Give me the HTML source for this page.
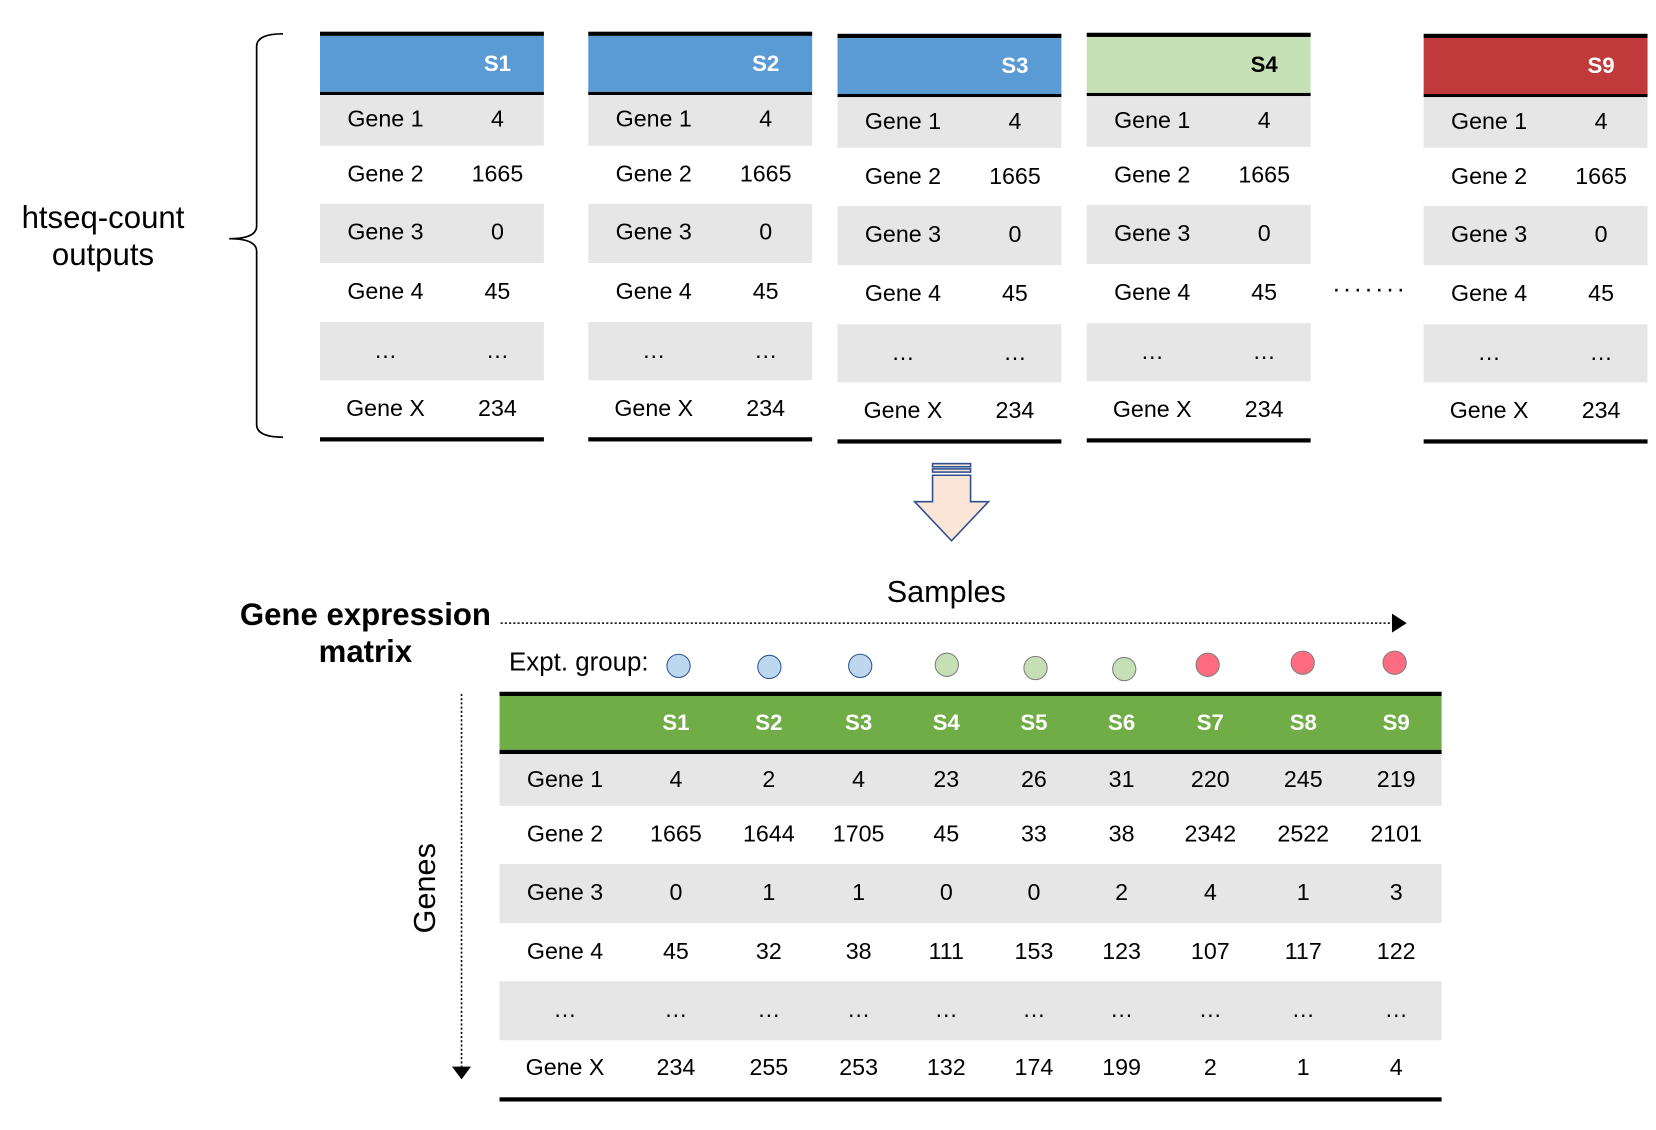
<!DOCTYPE html>
<html><head><meta charset="utf-8">
<style>
html,body{margin:0;padding:0;background:#fff;width:1656px;height:1130px;overflow:hidden}
#w{position:absolute;left:0;top:0;width:1568px;height:1070px;transform:scale(1.05612);transform-origin:0 0;font-family:"Liberation Sans",Arial,sans-serif;color:#000}
.a{position:absolute}
.t{position:absolute;width:212px}
.t .ln{position:absolute;left:0;width:212px;background:#000}
.t .hd{position:absolute;left:0;width:212px;top:4px;height:53px}
.t .hd span{position:absolute;left:138px;width:60px;text-align:center;font-weight:bold;font-size:21px;line-height:53px;color:#fff}
.r{position:absolute;left:0;width:100%}
.g{background:#e6e6e6}
.r span{position:absolute;top:-1px;text-align:center;font-size:22px}
.t .r span.l{left:12px;width:100px}
.t .r span.v{left:128px;width:80px}
.bt{position:absolute;left:473px;top:655px;width:892px}
.bt .ln{position:absolute;left:0;width:892px;background:#000}
.bt .hd{position:absolute;left:0;width:892px;top:4px;height:51px;background:#70ad47}
.bt .hd span{position:absolute;top:0;width:80px;text-align:center;font-weight:bold;font-size:21px;line-height:51px;color:#fff}
.dot{position:absolute;width:21px;height:21px;border-radius:50%;border:1.5px solid}
.db{background:#bdd7ee;border-color:#2f5597}
.dg{background:#c5e0b4;border-color:#7f7f7f}
.dr{background:#ff6b81;border-color:#7f7f7f}
</style></head><body><div id="w">

<svg class="a" style="left:0;top:0" width="1568" height="1070">
<path d="M268 32 Q243 32 243 44 L243 214 Q243 226 217 226 Q243 226 243 238 L243 402 Q243 414 268 414" fill="none" stroke="#000" stroke-width="1.6"/>
<g stroke="#2f4f8f" stroke-width="1.5" fill="#fbe5d6">
<path d="M883 450 L919 450 L919 475 L936 475 L901 512 L866 475 L883 475 Z"/>
<rect x="883" y="439" width="36" height="3"/>
<rect x="883" y="444" width="36" height="3"/>
</g>
<line x1="474" y1="590" x2="1320" y2="590" stroke="#000" stroke-width="1.5" stroke-dasharray="2,2"/>
<path d="M1318 581 L1332 590 L1318 599 Z" fill="#000"/>
<line x1="437" y1="657" x2="437" y2="1012" stroke="#000" stroke-width="1.5" stroke-dasharray="2,2"/>
<path d="M428 1010 L446 1010 L437 1022 Z" fill="#000"/>
</svg>

<div class="a" style="left:0;top:189px;width:195px;text-align:center;font-size:29.5px;line-height:35px">htseq-count<br>outputs</div>
<div class="a" style="left:1262px;top:255px;font-size:24px;letter-spacing:3.5px">.......</div>

<div class="t" style="left:303px;top:30px">
<div class="ln" style="top:0;height:4px"></div><div class="hd" style="background:#5b9bd5"><span>S1</span></div><div class="ln" style="top:57px;height:3px"></div>
<div class="r g" style="top:60px;height:48px;line-height:48px"><span class="l">Gene 1</span><span class="v">4</span></div>
<div class="r" style="top:108px;height:55px;line-height:55px"><span class="l">Gene 2</span><span class="v">1665</span></div>
<div class="r g" style="top:163px;height:56px;line-height:56px"><span class="l">Gene 3</span><span class="v">0</span></div>
<div class="r" style="top:219px;height:56px;line-height:56px"><span class="l">Gene 4</span><span class="v">45</span></div>
<div class="r g" style="top:275px;height:55px;line-height:55px"><span class="l">…</span><span class="v">…</span></div>
<div class="r" style="top:330px;height:55px;line-height:55px"><span class="l">Gene X</span><span class="v">234</span></div>
<div class="ln" style="top:384px;height:4px"></div></div>

<div class="t" style="left:557px;top:30px">
<div class="ln" style="top:0;height:4px"></div><div class="hd" style="background:#5b9bd5"><span>S2</span></div><div class="ln" style="top:57px;height:3px"></div>
<div class="r g" style="top:60px;height:48px;line-height:48px"><span class="l">Gene 1</span><span class="v">4</span></div>
<div class="r" style="top:108px;height:55px;line-height:55px"><span class="l">Gene 2</span><span class="v">1665</span></div>
<div class="r g" style="top:163px;height:56px;line-height:56px"><span class="l">Gene 3</span><span class="v">0</span></div>
<div class="r" style="top:219px;height:56px;line-height:56px"><span class="l">Gene 4</span><span class="v">45</span></div>
<div class="r g" style="top:275px;height:55px;line-height:55px"><span class="l">…</span><span class="v">…</span></div>
<div class="r" style="top:330px;height:55px;line-height:55px"><span class="l">Gene X</span><span class="v">234</span></div>
<div class="ln" style="top:384px;height:4px"></div></div>

<div class="t" style="left:793px;top:32px">
<div class="ln" style="top:0;height:4px"></div><div class="hd" style="background:#5b9bd5"><span>S3</span></div><div class="ln" style="top:57px;height:3px"></div>
<div class="r g" style="top:60px;height:48px;line-height:48px"><span class="l">Gene 1</span><span class="v">4</span></div>
<div class="r" style="top:108px;height:55px;line-height:55px"><span class="l">Gene 2</span><span class="v">1665</span></div>
<div class="r g" style="top:163px;height:56px;line-height:56px"><span class="l">Gene 3</span><span class="v">0</span></div>
<div class="r" style="top:219px;height:56px;line-height:56px"><span class="l">Gene 4</span><span class="v">45</span></div>
<div class="r g" style="top:275px;height:55px;line-height:55px"><span class="l">…</span><span class="v">…</span></div>
<div class="r" style="top:330px;height:55px;line-height:55px"><span class="l">Gene X</span><span class="v">234</span></div>
<div class="ln" style="top:384px;height:4px"></div></div>

<div class="t" style="left:1029px;top:31px">
<div class="ln" style="top:0;height:4px"></div><div class="hd" style="background:#c5e0b4"><span style="color:#000">S4</span></div><div class="ln" style="top:57px;height:3px"></div>
<div class="r g" style="top:60px;height:48px;line-height:48px"><span class="l">Gene 1</span><span class="v">4</span></div>
<div class="r" style="top:108px;height:55px;line-height:55px"><span class="l">Gene 2</span><span class="v">1665</span></div>
<div class="r g" style="top:163px;height:56px;line-height:56px"><span class="l">Gene 3</span><span class="v">0</span></div>
<div class="r" style="top:219px;height:56px;line-height:56px"><span class="l">Gene 4</span><span class="v">45</span></div>
<div class="r g" style="top:275px;height:55px;line-height:55px"><span class="l">…</span><span class="v">…</span></div>
<div class="r" style="top:330px;height:55px;line-height:55px"><span class="l">Gene X</span><span class="v">234</span></div>
<div class="ln" style="top:384px;height:4px"></div></div>

<div class="t" style="left:1348px;top:32px">
<div class="ln" style="top:0;height:4px"></div><div class="hd" style="background:#c0393b"><span>S9</span></div><div class="ln" style="top:57px;height:3px"></div>
<div class="r g" style="top:60px;height:48px;line-height:48px"><span class="l">Gene 1</span><span class="v">4</span></div>
<div class="r" style="top:108px;height:55px;line-height:55px"><span class="l">Gene 2</span><span class="v">1665</span></div>
<div class="r g" style="top:163px;height:56px;line-height:56px"><span class="l">Gene 3</span><span class="v">0</span></div>
<div class="r" style="top:219px;height:56px;line-height:56px"><span class="l">Gene 4</span><span class="v">45</span></div>
<div class="r g" style="top:275px;height:55px;line-height:55px"><span class="l">…</span><span class="v">…</span></div>
<div class="r" style="top:330px;height:55px;line-height:55px"><span class="l">Gene X</span><span class="v">234</span></div>
<div class="ln" style="top:384px;height:4px"></div></div>

<div class="a" style="left:796px;top:545px;width:200px;text-align:center;font-size:29px">Samples</div>
<div class="a" style="left:206px;top:565px;width:280px;text-align:center;font-size:29.5px;font-weight:bold;line-height:35px">Gene expression<br>matrix</div>
<div class="a" style="left:343px;top:825px;width:120px;text-align:center;font-size:29px;transform:rotate(-90deg);transform-origin:60px 16px;line-height:32px">Genes</div>
<div class="a" style="left:482px;top:614px;font-size:24.5px">Expt. group:</div>

<div class="dot db" style="left:631px;top:619px"></div>
<div class="dot db" style="left:717px;top:620px"></div>
<div class="dot db" style="left:803px;top:619px"></div>
<div class="dot dg" style="left:885px;top:618px"></div>
<div class="dot dg" style="left:969px;top:621px"></div>
<div class="dot dg" style="left:1053px;top:622px"></div>
<div class="dot dr" style="left:1132px;top:618px"></div>
<div class="dot dr" style="left:1222px;top:616px"></div>
<div class="dot dr" style="left:1309px;top:616px"></div>

<div class="bt">
<div class="ln" style="top:0;height:4px"></div>
<div class="hd"><span style="left:127px">S1</span><span style="left:215px">S2</span><span style="left:300px">S3</span><span style="left:383px">S4</span><span style="left:466px">S5</span><span style="left:549px">S6</span><span style="left:633px">S7</span><span style="left:721px">S8</span><span style="left:809px">S9</span></div>
<div class="ln" style="top:55px;height:4px"></div>
<div class="r g" style="top:59px;height:49px;line-height:49px"><span style="left:12px;width:100px">Gene 1</span><span style="left:127px;width:80px">4</span><span style="left:215px;width:80px">2</span><span style="left:300px;width:80px">4</span><span style="left:383px;width:80px">23</span><span style="left:466px;width:80px">26</span><span style="left:549px;width:80px">31</span><span style="left:633px;width:80px">220</span><span style="left:721px;width:80px">245</span><span style="left:809px;width:80px">219</span></div>
<div class="r" style="top:108px;height:55px;line-height:55px"><span style="left:12px;width:100px">Gene 2</span><span style="left:127px;width:80px">1665</span><span style="left:215px;width:80px">1644</span><span style="left:300px;width:80px">1705</span><span style="left:383px;width:80px">45</span><span style="left:466px;width:80px">33</span><span style="left:549px;width:80px">38</span><span style="left:633px;width:80px">2342</span><span style="left:721px;width:80px">2522</span><span style="left:809px;width:80px">2101</span></div>
<div class="r g" style="top:163px;height:56px;line-height:56px"><span style="left:12px;width:100px">Gene 3</span><span style="left:127px;width:80px">0</span><span style="left:215px;width:80px">1</span><span style="left:300px;width:80px">1</span><span style="left:383px;width:80px">0</span><span style="left:466px;width:80px">0</span><span style="left:549px;width:80px">2</span><span style="left:633px;width:80px">4</span><span style="left:721px;width:80px">1</span><span style="left:809px;width:80px">3</span></div>
<div class="r" style="top:219px;height:55px;line-height:55px"><span style="left:12px;width:100px">Gene 4</span><span style="left:127px;width:80px">45</span><span style="left:215px;width:80px">32</span><span style="left:300px;width:80px">38</span><span style="left:383px;width:80px">111</span><span style="left:466px;width:80px">153</span><span style="left:549px;width:80px">123</span><span style="left:633px;width:80px">107</span><span style="left:721px;width:80px">117</span><span style="left:809px;width:80px">122</span></div>
<div class="r g" style="top:274px;height:56px;line-height:56px"><span style="left:12px;width:100px">…</span><span style="left:127px;width:80px">…</span><span style="left:215px;width:80px">…</span><span style="left:300px;width:80px">…</span><span style="left:383px;width:80px">…</span><span style="left:466px;width:80px">…</span><span style="left:549px;width:80px">…</span><span style="left:633px;width:80px">…</span><span style="left:721px;width:80px">…</span><span style="left:809px;width:80px">…</span></div>
<div class="r" style="top:330px;height:54px;line-height:54px"><span style="left:12px;width:100px">Gene X</span><span style="left:127px;width:80px">234</span><span style="left:215px;width:80px">255</span><span style="left:300px;width:80px">253</span><span style="left:383px;width:80px">132</span><span style="left:466px;width:80px">174</span><span style="left:549px;width:80px">199</span><span style="left:633px;width:80px">2</span><span style="left:721px;width:80px">1</span><span style="left:809px;width:80px">4</span></div>
<div class="ln" style="top:384px;height:4px"></div>
</div>

</div></body></html>
